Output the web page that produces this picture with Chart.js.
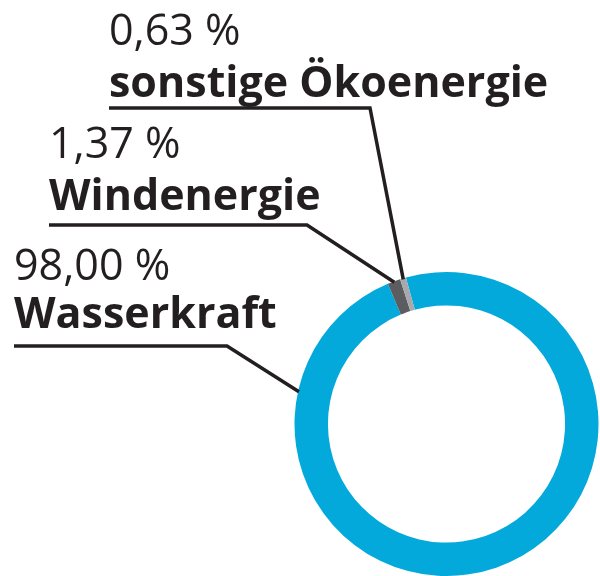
<!DOCTYPE html>
<html>
<head>
<meta charset="utf-8">
<script src="https://cdn.jsdelivr.net/npm/chart.js@4"></script>
<style>
  html, body { margin: 0; padding: 0; background: #ffffff; }
  #wrap { width: 600px; height: 576px; position: relative; }
</style>
</head>
<body>
<div id="wrap"><canvas id="c" width="600" height="576"></canvas></div>
<script>
// ---- data ----
const categories = ["Wasserkraft", "Windenergie", "sonstige Ökoenergie"];
const shares = [98.00, 1.37, 0.63];
const sliceColors = ["#04a9dc", "#5b5d60", "#a7a9ac"];

function fmtPct(v) { return v.toFixed(2).replace('.', ',') + ' %'; }

// label placement (layout only)
const labelLayout = [
  { x: 14,  pctY: 280, nameY: 328, lineY: 346, bendX: 227, anchorAngleDeg: -77.7 },
  { x: 49,  pctY: 158, nameY: 210, lineY: 225, bendX: 307, anchorAngleDeg: null },
  { x: 109, pctY: 45,  nameY: 97,  lineY: 108, bendX: 370, anchorAngleDeg: null }
];

const calloutPlugin = {
  id: 'callouts',
  afterDraw(chart) {
    const ctx = chart.ctx;
    const meta = chart.getDatasetMeta(0);
    ctx.save();
    meta.data.forEach((arc, i) => {
      const L = labelLayout[i];
      const p = arc.getProps(['x', 'y', 'startAngle', 'endAngle', 'outerRadius'], true);
      let ang = (p.startAngle + p.endAngle) / 2;
      if (L.anchorAngleDeg !== null) ang = (L.anchorAngleDeg - 90) * Math.PI / 180;
      const ax = p.x + Math.cos(ang) * (p.outerRadius - 1);
      const ay = p.y + Math.sin(ang) * (p.outerRadius - 1);
      ctx.strokeStyle = '#231f20';
      ctx.lineWidth = 3.5;
      ctx.lineJoin = 'miter';
      ctx.beginPath();
      ctx.moveTo(L.x, L.lineY);
      ctx.lineTo(L.bendX, L.lineY);
      ctx.lineTo(ax, ay);
      ctx.stroke();
      ctx.fillStyle = '#231f20';
      ctx.textAlign = 'left';
      ctx.textBaseline = 'alphabetic';
      ctx.font = '400 43px "Open Sans"';
      ctx.fillText(fmtPct(shares[i]), L.x, L.pctY);
      ctx.font = '700 43px "Open Sans"';
      ctx.fillText(categories[i], L.x, L.nameY);
    });
    ctx.restore();
  }
};

new Chart(document.getElementById('c'), {
  type: 'doughnut',
  data: {
    labels: categories,
    datasets: [{
      data: shares,
      backgroundColor: sliceColors,
      borderWidth: 0,
      hoverOffset: 0
    }]
  },
  options: {
    responsive: false,
    animation: false,
    rotation: -15.5,
    cutout: '78%',
    layout: { padding: { left: 294, top: 272, right: 1, bottom: 0 } },
    plugins: {
      legend: { display: false },
      tooltip: { enabled: false }
    }
  },
  plugins: [calloutPlugin]
});
</script>
</body>
</html>
